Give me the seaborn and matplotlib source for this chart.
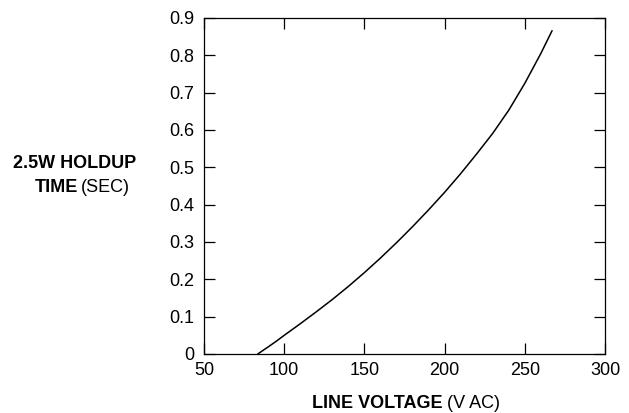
import matplotlib
matplotlib.use("Agg")
import matplotlib.pyplot as plt
import pandas as pd
import seaborn as sns

# values
line_voltage = [83.5, 90, 95, 100, 110, 120, 130, 140, 150, 160, 170,
                180, 190, 200, 210, 220, 230, 240, 250, 260, 267]
holdup_time = [0.0, 0.019, 0.034, 0.050, 0.081, 0.113, 0.146, 0.181, 0.218, 0.257, 0.298,
               0.341, 0.386, 0.433, 0.483, 0.536, 0.591, 0.653, 0.725, 0.805, 0.866]
x_ticks = [50, 100, 150, 200, 250, 300]
y_ticks = [0, 0.1, 0.2, 0.3, 0.4, 0.5, 0.6, 0.7, 0.8, 0.9]
y_tick_labels = ["0", "0.1", "0.2", "0.3", "0.4", "0.5", "0.6", "0.7", "0.8", "0.9"]

df = pd.DataFrame({"voltage": line_voltage, "time": holdup_time})

sns.set_style("ticks")
plt.rcParams["font.family"] = ["Liberation Sans", "DejaVu Sans"]
plt.rcParams["text.color"] = "black"

W, H = 629, 413
fig = plt.figure(figsize=(W / 100, H / 100), dpi=100)
ax = fig.add_axes([204 / W, 1 - 354 / H, (605 - 204) / W, (354 - 18) / H])

sns.lineplot(data=df, x="voltage", y="time", ax=ax, color="black", linewidth=1.1)

ax.set_xlim(50, 300)
ax.set_ylim(0, 0.9)
ax.set_xticks(x_ticks)
ax.set_yticks(y_ticks)
ax.set_yticklabels(y_tick_labels)
ax.set_xlabel("")
ax.set_ylabel("")
for s in ax.spines.values():
    s.set_visible(True)
    s.set_linewidth(0.9)
    s.set_color("black")
ax.tick_params(direction="in", length=8, width=0.9, color="black",
               top=True, right=True, labelsize=13, labelcolor="black")
ax.tick_params(axis="y", pad=7)
ax.tick_params(axis="x", pad=6)

# axis titles, mixed bold / regular
fs = 13
fig.text(75 / W, 1 - 163 / H, "2.5W HOLDUP", ha="center", va="center",
         fontsize=fs, fontweight="bold", color="black")
fig.text(78 / W, 1 - 187 / H, "TIME", ha="right", va="center",
         fontsize=fs, fontweight="bold", color="black")
fig.text(81 / W, 1 - 187 / H, "(SEC)", ha="left", va="center", fontsize=fs, color="black")
fig.text(443 / W, 1 - 404 / H, "LINE VOLTAGE", ha="right", va="center",
         fontsize=fs, fontweight="bold", color="black")
fig.text(447 / W, 1 - 404 / H, "(V AC)", ha="left", va="center", fontsize=fs, color="black")

fig.savefig("out.png", dpi=100)
